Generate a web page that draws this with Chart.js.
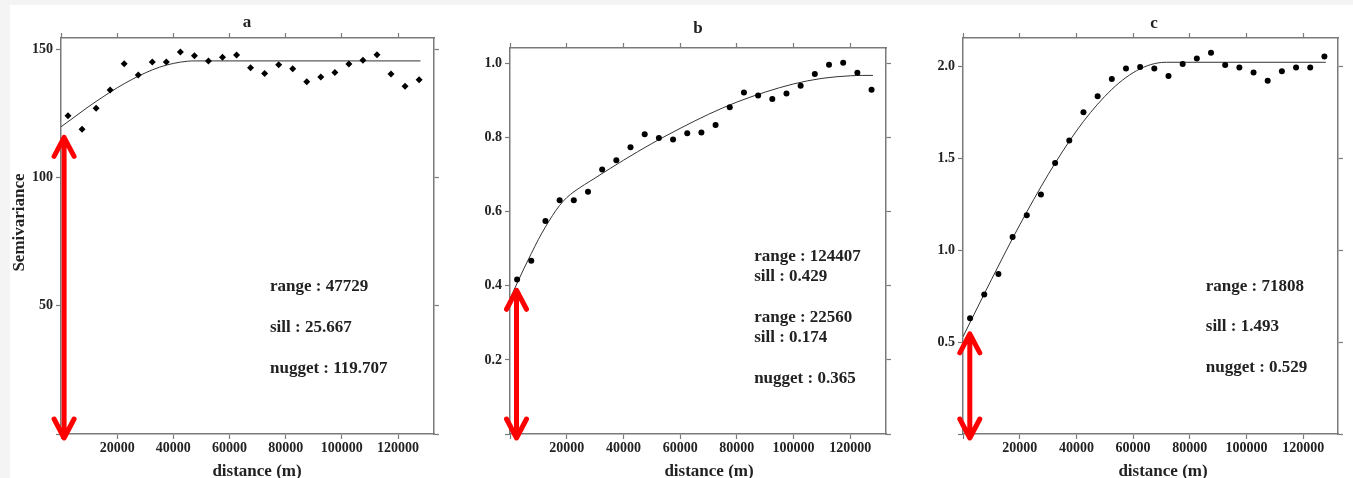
<!DOCTYPE html>
<html>
<head>
<meta charset="utf-8">
<script src="https://cdn.jsdelivr.net/npm/chart.js@4.4.1/dist/chart.umd.min.js"></script>
<style>
  html, body { margin: 0; padding: 0; background: #f4f4f4; }
  #page { position: relative; width: 1353px; height: 478px; overflow: hidden; }
  #sheet { position: absolute; left: 10px; top: 5px; right: 0; bottom: 0; background: #fff; }
  canvas { position: absolute; top: 0; }
</style>
</head>
<body>
<div id="page">
  <div id="sheet"></div>
  <canvas id="chartA" width="450" height="478" style="left:0"></canvas>
  <canvas id="chartB" width="450" height="478" style="left:450px"></canvas>
  <canvas id="chartC" width="453" height="478" style="left:900px"></canvas>
</div>
<script>
// lag bins (m), same for the three variograms
const lags = [2500, 7500, 12500, 17500, 22500, 27500, 32500, 37500, 42500, 47500,
              52500, 57500, 62500, 67500, 72500, 77500, 82500, 87500, 92500, 97500,
              102500, 107500, 112500, 117500, 122500, 127500];

// experimental semivariance
const gammaA = [124.0, 118.7, 126.9, 134.0, 144.3, 139.9, 144.9, 144.9, 148.8, 147.4,
                145.3, 146.8, 147.7, 142.7, 140.5, 143.9, 142.3, 137.3, 139.1, 140.9,
                144.2, 145.6, 147.8, 140.3, 135.5, 138.0];
const gammaB = [0.417, 0.468, 0.575, 0.631, 0.631, 0.654, 0.714, 0.739, 0.774, 0.809,
                0.799, 0.795, 0.812, 0.814, 0.834, 0.882, 0.922, 0.914, 0.904, 0.919,
                0.940, 0.972, 0.997, 1.002, 0.975, 0.929];
const gammaC = [0.629, 0.759, 0.870, 1.071, 1.190, 1.303, 1.474, 1.596, 1.750, 1.837,
                1.931, 1.988, 1.996, 1.988, 1.947, 2.013, 2.043, 2.074, 2.007, 1.993,
                1.967, 1.922, 1.973, 1.993, 1.993, 2.053];

// fitted model curves
const fitAx = [0, 5000, 10000, 15000, 20000, 25000, 30000, 35000, 40000, 45000, 47729, 128000];
const fitAy = [119.7, 123.7, 127.7, 131.4, 134.9, 138.0, 140.7, 142.9, 144.4, 145.25, 145.37, 145.37];
const fitBx = [0, 2500, 5000, 7500, 10000, 12500, 15000, 17500, 20000, 22560, 30000, 40000,
               50000, 60000, 70000, 80000, 90000, 100000, 110000, 120000, 124407, 128000];
const fitBy = [0.365, 0.407, 0.448, 0.487, 0.525, 0.559, 0.590, 0.617, 0.638, 0.654, 0.691, 0.739,
               0.784, 0.825, 0.863, 0.896, 0.923, 0.945, 0.960, 0.967, 0.968, 0.968];
const fitCx = [0, 5000, 10000, 15000, 20000, 25000, 30000, 35000, 40000, 45000, 50000,
               55000, 60000, 65000, 70000, 71808, 128000];
const fitCy = [0.529, 0.685, 0.839, 0.990, 1.137, 1.277, 1.410, 1.534, 1.648, 1.749, 1.836,
               1.909, 1.965, 2.003, 2.021, 2.022, 2.022];

// tick values (0 gets a mark but no label)
const xTicks = [0, 20000, 40000, 60000, 80000, 100000, 120000];
const yTicksA = [0, 50, 100, 150];
const yTicksB = [0, 0.2, 0.4, 0.6, 0.8, 1.0];
const yTicksC = [0, 0.5, 1.0, 1.5, 2.0];

// nugget arrows (x, tip) and model text
const arrowA = [1100, 115.6];
const arrowB = [2300, 0.388];
const arrowC = [2400, 0.545];
const notesA = ['range : 47729', 'sill : 25.667', 'nugget : 119.707'];
const notesB = ['range : 124407', 'sill : 0.429', 'range : 22560', 'sill : 0.174', 'nugget : 0.365'];
const notesC = ['range : 71808', 'sill : 1.493', 'nugget : 0.529'];

const axisColor = '#7a7a7a';
const textColor = '#222';
const serif = '"Liberation Serif", "DejaVu Serif", serif';

// draws the red nugget arrow, panel letter, axis titles and model text
const decor = {
  id: 'decor',
  afterDraw(chart, args, o) {
    const {ctx, scales: {x, y}} = chart;
    ctx.save();

    const ax = x.getPixelForValue(o.arrow[0]);
    const top = y.getPixelForValue(o.arrow[1]);
    const bot = y.getPixelForValue(0) + 4;
    ctx.strokeStyle = '#ff0000';
    ctx.lineWidth = 5;
    ctx.lineCap = 'round';
    ctx.lineJoin = 'round';
    ctx.beginPath();
    ctx.moveTo(ax, top + 2);
    ctx.lineTo(ax, bot - 2);
    ctx.moveTo(ax - 10, top + 19);
    ctx.lineTo(ax, top);
    ctx.lineTo(ax + 10, top + 19);
    ctx.moveTo(ax - 10, bot - 19);
    ctx.lineTo(ax, bot);
    ctx.lineTo(ax + 10, bot - 19);
    ctx.stroke();

    ctx.fillStyle = textColor;
    ctx.textBaseline = 'alphabetic';
    ctx.font = 'bold 17px ' + serif;
    ctx.textAlign = 'center';
    ctx.fillText(o.title, o.titleAt[0], o.titleAt[1]);
    ctx.fillText('distance (m)', o.xTitleAt[0], 476);
    if (o.yTitle) {
      ctx.save();
      ctx.translate(24, 222.5);
      ctx.rotate(-Math.PI / 2);
      ctx.fillText(o.yTitle, 0, 0);
      ctx.restore();
    }

    ctx.textAlign = 'left';
    const nx = x.getPixelForValue(o.notesX);
    o.notes.forEach((t, i) => {
      ctx.fillText(t, nx, y.getPixelForValue(o.notesY[i]));
    });
    ctx.restore();
  }
};

function makePanel(id, box, xMax, yMax, yTicks, digits, points, pointStyle, pointRadius, fitX, fitY, deco) {
  const tickFont = { family: serif, weight: 'bold', size: 14 };
  const grid = { drawOnChartArea: false, color: axisColor, tickColor: axisColor, tickLength: 5, tickWidth: 1.2 };
  const border = { color: axisColor, width: 1.5 };
  const label = digits => v => Math.abs(v) < 1e-9 ? '' : Number(v).toFixed(digits);
  const setTicks = vals => s => { s.ticks = vals.map(v => ({ value: v })); };

  new Chart(document.getElementById(id), {
    type: 'scatter',
    data: {
      datasets: [{
        label: 'experimental',
        data: lags.map((d, i) => ({ x: d, y: points[i] })),
        pointStyle: pointStyle,
        pointRadius: pointRadius,
        backgroundColor: '#000',
        borderColor: '#000',
        borderWidth: 0
      }, {
        label: 'model',
        data: fitX.map((d, i) => ({ x: d, y: fitY[i] })),
        showLine: true,
        pointRadius: 0,
        borderColor: '#333',
        borderWidth: 1,
        cubicInterpolationMode: 'monotone',
        fill: false
      }]
    },
    options: {
      responsive: false,
      animation: false,
      events: [],
      layout: { padding: 0 },
      scales: {
        x: {
          type: 'linear', position: 'bottom', min: 0, max: xMax,
          afterBuildTicks: setTicks(xTicks),
          afterFit: s => { s.height = box.bottom; },
          ticks: { autoSkip: false, maxRotation: 0, padding: 1,
                   font: tickFont, color: textColor, callback: label(0) },
          grid, border
        },
        xTop: {
          axis: 'x', type: 'linear', position: 'top', min: 0, max: xMax,
          afterBuildTicks: setTicks(xTicks),
          afterFit: s => { s.height = box.top; },
          ticks: { display: false },
          grid, border
        },
        y: {
          type: 'linear', position: 'left', min: 0, max: yMax,
          afterBuildTicks: setTicks(yTicks),
          afterFit: s => { s.width = box.left; },
          ticks: { autoSkip: false, padding: 3, font: tickFont, color: textColor, callback: label(digits) },
          grid, border
        },
        yRight: {
          axis: 'y', type: 'linear', position: 'right', min: 0, max: yMax,
          afterBuildTicks: setTicks(yTicks),
          afterFit: s => { s.width = box.right; },
          ticks: { display: false },
          grid, border
        }
      },
      plugins: {
        legend: { display: false },
        tooltip: { enabled: false },
        decor: deco
      }
    },
    plugins: [decor]
  });
}

makePanel('chartA', { left: 61, right: 16, top: 38, bottom: 44 }, 132800, 154.3, yTicksA, 0,
  gammaA, 'rectRot', 3.5, fitAx, fitAy, {
    arrow: arrowA, title: 'a', titleAt: [247, 26.5], xTitleAt: [257], yTitle: 'Semivariance',
    notes: notesA, notesX: 74400, notesY: [55.7, 39.9, 23.9]
  });

makePanel('chartB', { left: 60, right: 14, top: 48, bottom: 44 }, 132600, 1.042, yTicksB, 1,
  gammaB, 'circle', 3, fitBx, fitBy, {
    arrow: arrowB, title: 'b', titleAt: [248, 33.3], xTitleAt: [259],
    notes: notesB, notesX: 86100, notesY: [0.467, 0.413, 0.302, 0.248, 0.137]
  });

makePanel('chartC', { left: 63, right: 15, top: 38, bottom: 44 }, 132300, 2.154, yTicksC, 1,
  gammaC, 'circle', 3, fitCx, fitCy, {
    arrow: arrowC, title: 'c', titleAt: [254, 27.7], xTitleAt: [263],
    notes: notesC, notesX: 85650, notesY: [0.779, 0.560, 0.335]
  });
</script>
</body>
</html>
